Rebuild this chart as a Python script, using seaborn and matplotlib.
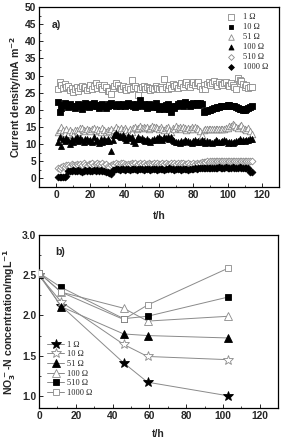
import numpy as np
import pandas as pd
import matplotlib
matplotlib.use("Agg")
import matplotlib.pyplot as plt
import seaborn as sns
from matplotlib.ticker import MultipleLocator

sns.set_style("white")
plt.rcParams['font.family'] = ['Liberation Sans', 'DejaVu Sans']
plt.rcParams['mathtext.default'] = 'bf'

# ---------- Panel a data ----------
t_a = list(range(1, 115))
cd_1 = [26.0, 28.0, 27.2, 26.5, 27.5, 26.8, 27.0, 25.8, 26.3, 25.2,
        26.0, 26.8, 25.5, 26.3, 27.0, 26.5, 26.8, 25.7, 26.5, 27.2,
        26.2, 27.0, 27.8, 26.4, 27.3, 26.6, 26.0, 27.4, 26.8, 25.6,
        25.5, 24.6, 26.3, 26.9, 27.8, 27.2, 26.5, 26.0, 27.0, 26.4,
        25.8, 26.8, 26.2, 28.8, 26.5, 27.0, 26.4, 24.4, 26.2, 26.6,
        27.0, 26.0, 26.8, 26.3, 25.9, 26.5, 26.1, 27.0, 26.4, 26.0,
        26.8, 26.2, 29.0, 26.6, 26.2, 27.2, 26.5, 27.6, 26.9, 27.3,
        26.5, 27.4, 27.8, 26.8, 27.5, 28.0, 27.2, 26.6, 27.6, 28.0,
        27.3, 27.8, 28.2, 27.0, 26.0, 27.4, 26.2, 27.5, 28.0, 27.2,
        27.8, 28.3, 27.5, 27.0, 28.0, 27.6, 27.2, 27.8, 28.1, 27.4,
        27.0, 27.8, 27.3, 26.6, 26.2, 29.4, 28.8, 28.3, 27.6, 26.8,
        27.4, 26.5, 26.8, 26.6]
cd_10 = [22.2, 19.5, 20.5, 21.3, 22.0, 21.5, 20.8, 21.8, 21.2, 21.0,
         20.5, 21.2, 21.8, 21.0, 20.4, 21.5, 21.9, 21.2, 20.8, 21.6,
         21.0, 22.0, 21.4, 21.1, 20.6, 21.4, 21.8, 21.2, 20.5, 21.0,
         21.7, 22.0, 21.5, 21.3, 21.0, 21.6, 21.2, 21.4, 21.8, 21.0,
         21.5, 22.0, 21.3, 21.8, 21.2, 20.8, 21.6, 21.2, 23.0, 21.4,
         21.8, 21.0, 20.5, 21.6, 21.2, 20.8, 21.4, 21.9, 20.8, 20.3,
         21.2, 20.8, 20.2, 21.4, 21.6, 20.4, 19.5, 21.0, 20.6, 21.2,
         21.8, 22.0, 21.4, 21.0, 22.2, 21.6, 21.8, 21.2, 21.5, 22.0,
         21.6, 22.0, 21.3, 22.0, 21.8, 19.3, 19.6, 19.8, 20.0, 20.1,
         20.3, 20.5, 20.6, 20.8, 20.9, 21.0, 21.1, 21.2, 21.2, 21.3,
         21.3, 21.2, 21.1, 21.0, 20.8, 20.6, 20.4, 20.2, 20.0, 19.9,
         20.3, 20.6, 20.9, 21.0]
cd_51 = [13.5, 14.2, 15.0, 14.0, 13.2, 14.5, 13.0, 14.0, 13.6, 12.8,
         14.2, 14.0, 13.5, 14.8, 14.6, 14.2, 13.8, 14.5, 14.0, 13.8,
         14.4, 14.8, 13.8, 14.5, 14.0, 13.6, 14.6, 14.0, 13.5, 14.2,
         13.8, 14.5, 13.0, 14.0, 15.0, 14.5, 14.2, 14.8, 14.0, 14.6,
         14.0, 13.6, 14.4, 13.5, 14.6, 15.0, 14.5, 14.8, 15.2, 14.6,
         15.0, 14.8, 15.1, 14.5, 14.8, 15.2, 14.9, 15.0, 14.6, 14.3,
         15.0, 14.5, 14.0, 14.8, 15.1, 14.2, 13.6, 14.6, 14.3, 15.2,
         14.8, 15.0, 14.5, 14.9, 14.6, 14.2, 14.8, 14.4, 14.9, 14.5,
         15.0, 14.6, 14.3, 13.8, 12.6, 14.2, 14.3, 14.3, 14.3, 14.3,
         14.3, 14.3, 14.3, 14.3, 14.3, 14.3, 14.4, 14.5, 14.6, 14.8,
         15.2, 15.4, 16.0, 15.6, 15.0, 14.6, 15.3, 15.5, 14.8, 14.5,
         14.0, 14.8, 13.8, 13.0]
cd_100 = [10.5, 12.0, 9.5, 11.5, 10.8, 11.8, 11.2, 10.0, 11.5, 10.6,
          11.4, 12.0, 11.0, 11.8, 11.2, 10.6, 11.6, 11.4, 10.8, 11.2,
          10.5, 12.2, 10.8, 11.3, 10.2, 11.6, 10.5, 11.4, 10.8, 11.5,
          11.0, 8.0, 11.2, 12.6, 13.2, 12.8, 12.4, 12.0, 12.6, 11.8,
          11.2, 12.4, 11.8, 12.2, 11.0, 10.2, 11.6, 12.0, 11.5, 11.8,
          11.2, 10.8, 11.4, 11.0, 10.6, 11.2, 11.6, 11.3, 11.8, 12.0,
          11.6, 11.2, 12.0, 11.8, 12.2, 11.5, 12.0, 11.2, 10.8, 10.5,
          10.7, 10.4, 11.0, 10.5, 11.2, 10.8, 11.0, 10.6, 10.4, 10.8,
          11.2, 10.6, 11.0, 10.5, 11.3, 11.0, 10.4, 10.8, 10.5, 10.7,
          10.4, 10.6, 11.2, 10.8, 10.5, 10.6, 11.0, 11.3, 10.8, 10.4,
          10.6, 10.5, 10.3, 10.6, 11.0, 10.8, 11.4, 11.0, 11.2, 11.0,
          11.3, 11.2, 11.6, 11.4]
cd_510 = [3.0, 2.8, 3.2, 3.5, 3.2, 3.8, 4.0, 3.6, 4.2, 3.8,
          4.0, 4.3, 3.8, 4.2, 3.9, 4.4, 4.0, 3.7, 4.3, 4.1,
          4.5, 4.0, 4.3, 4.6, 4.2, 4.0, 4.4, 3.8, 4.2, 3.6,
          3.4, 3.8, 4.2, 4.0, 4.5, 4.2, 4.0, 4.4, 4.6, 4.2,
          4.0, 4.3, 4.1, 4.5, 4.2, 4.4, 4.0, 4.3, 4.6, 4.2,
          4.4, 4.0, 4.2, 4.5, 4.3, 4.1, 4.4, 4.2, 4.6, 4.3,
          4.1, 4.4, 4.2, 4.5, 4.3, 4.0, 4.4, 4.2, 4.6, 4.3,
          4.5, 4.2, 4.4, 4.6, 4.3, 4.1, 4.4, 4.2, 4.0, 4.4,
          4.2, 4.5, 4.3, 4.6, 4.8, 4.9, 4.9, 5.0, 4.9, 5.0,
          5.0, 5.0, 5.0, 5.0, 5.0, 5.1, 5.0, 5.1, 5.1, 5.1,
          5.1, 5.1, 5.2, 5.2, 5.2, 5.1, 5.2, 5.2, 5.1, 5.2,
          5.2, 5.1, 5.2, 5.0]
cd_1000 = [0.5, 0.4, 0.5, 0.4, 0.5, 0.6, 2.2, 2.3, 2.1, 2.4,
           2.2, 2.3, 2.5, 2.2, 2.0, 2.3, 2.4, 2.2, 2.5, 2.3,
           2.2, 2.4, 2.3, 2.5, 2.2, 2.4, 2.3, 2.2, 2.0, 1.9,
           1.6, 1.4, 2.4, 2.6, 2.7, 2.8, 2.6, 2.7, 2.8, 2.6,
           2.7, 2.8, 2.6, 2.7, 2.8, 2.7, 2.6, 2.8, 2.7, 2.8,
           2.6, 2.7, 2.8, 2.7, 2.6, 2.8, 2.7, 2.8, 2.6, 2.7,
           2.8, 2.7, 2.6, 2.8, 2.7, 2.9, 2.8, 2.7, 2.6, 2.8,
           2.7, 2.8, 2.6, 2.7, 2.8, 2.7, 2.6, 2.8, 2.7, 2.8,
           2.9, 2.8, 2.9, 3.0, 3.0, 3.1, 3.0, 3.1, 3.0, 3.1,
           3.0, 3.1, 3.0, 3.1, 3.2, 3.1, 3.0, 3.1, 3.2, 3.1,
           3.0, 3.1, 3.2, 3.1, 3.0, 3.1, 3.2, 3.1, 3.0, 3.1,
           3.0, 2.9, 2.0, 1.8]

labels_a = ["1 Ω", "10 Ω", "51 Ω", "100 Ω", "510 Ω", "1000 Ω"]

# ---------- Panel b data ----------
t_b = [0, 12, 46, 59, 103]
no3_1 = [2.50, 2.12, 1.41, 1.17, 1.00]
no3_10 = [2.50, 2.17, 1.64, 1.49, 1.45]
no3_51 = [2.52, 2.11, 1.77, 1.75, 1.72]
no3_100 = [2.53, 2.29, 2.09, 1.93, 1.99]
no3_510 = [2.53, 2.35, 1.96, 1.99, 2.23]
no3_1000 = [2.53, 2.29, 1.95, 2.13, 2.59]
labels_b = ["1 Ω", "10 Ω", "51 Ω", "100 Ω", "510 Ω", "1000 Ω"]

GRAY = "#8a8a8a"
tick_fs = 7.4
lab_fs = 7.6

fig = plt.figure(figsize=(2.85, 4.41), dpi=100)
axa = fig.add_axes([0.137, 0.576, 0.842, 0.408])
axb = fig.add_axes([0.137, 0.075, 0.839, 0.392])

# Panel a
series_a = [cd_1, cd_10, cd_51, cd_100, cd_510, cd_1000]
styles_a = [("s", "white", GRAY), ("s", "black", "black"), ("^", "white", GRAY),
            ("^", "black", "black"), ("D", "white", GRAY), ("D", "black", "black")]
sizes_a = [20, 17, 22, 18, 12, 12]
for vals, (m, fc, ec), lab, s in zip(series_a, styles_a, labels_a, sizes_a):
    sns.scatterplot(x=t_a, y=vals, ax=axa, marker=m, s=s, facecolor=fc,
                    edgecolor=ec, linewidth=0.6, label=lab, zorder=3)
axa.set_xlim(-10, 130)
axa.set_ylim(-2.5, 50)
axa.xaxis.set_major_locator(MultipleLocator(20))
axa.xaxis.set_minor_locator(MultipleLocator(10))
axa.yaxis.set_major_locator(MultipleLocator(5))
axa.yaxis.set_minor_locator(MultipleLocator(2.5))
axa.set_xlabel("t/h", fontsize=lab_fs, fontweight="bold", labelpad=8)
axa.set_ylabel("Current density/mA m$^{-2}$", fontsize=lab_fs, fontweight="bold", labelpad=1)
axa.text(0.055, 0.90, "a)", transform=axa.transAxes, fontsize=lab_fs, fontweight="bold",
         va="center")
axa.legend(loc="upper right", frameon=False, handletextpad=0.4,
           labelspacing=0.25, borderaxespad=0.3, markerscale=0.85,
           bbox_to_anchor=(0.98, 1.0),
           prop={"family": "Liberation Serif", "size": 6})

# Panel b
series_b = [no3_1, no3_10, no3_51, no3_100, no3_510, no3_1000]
styles_b = [("*", "black", "black", 7), ("*", "white", GRAY, 7.5), ("^", "black", "black", 5.5),
            ("^", "white", GRAY, 6), ("s", "black", "black", 5), ("s", "white", GRAY, 5)]
for vals, (m, fc, ec, ms), lab in zip(series_b, styles_b, labels_b):
    sns.lineplot(x=t_b, y=vals, ax=axb, marker=m, markersize=ms, markerfacecolor=fc,
                 markeredgecolor=ec, markeredgewidth=0.6, color=GRAY, linewidth=0.7,
                 label=lab, zorder=3)
axb.set_xlim(0, 130)
axb.set_ylim(0.85, 3.0)
axb.xaxis.set_major_locator(MultipleLocator(20))
axb.xaxis.set_minor_locator(MultipleLocator(10))
axb.yaxis.set_major_locator(MultipleLocator(0.5))
axb.yaxis.set_minor_locator(MultipleLocator(0.25))
axb.set_xlabel("t/h", fontsize=lab_fs, fontweight="bold", labelpad=6)
axb.set_ylabel("NO$_3^-$-N concentration/mgL$^{-1}$", fontsize=lab_fs, fontweight="bold", labelpad=3)
axb.text(0.067, 0.90, "b)", transform=axb.transAxes, fontsize=lab_fs, fontweight="bold",
         va="center")
axb.legend(loc="lower left", frameon=False, handlelength=2.0, handletextpad=0.3,
           labelspacing=0.2, borderaxespad=0.6, bbox_to_anchor=(0.0, 0.015),
           prop={"family": "Liberation Serif", "size": 6})

for ax in (axa, axb):
    for sp in ax.spines.values():
        sp.set_visible(True)
        sp.set_color("black")
        sp.set_linewidth(0.9)
    ax.tick_params(which="both", direction="in", left=True, bottom=True, top=False, right=False,
                   labelsize=tick_fs, pad=2)
    ax.tick_params(which="major", length=3, width=0.7)
    ax.tick_params(which="minor", length=1.6, width=0.6)
    for lbl in ax.get_xticklabels() + ax.get_yticklabels():
        lbl.set_fontweight("bold")

fig.savefig("out.png", dpi=100)
